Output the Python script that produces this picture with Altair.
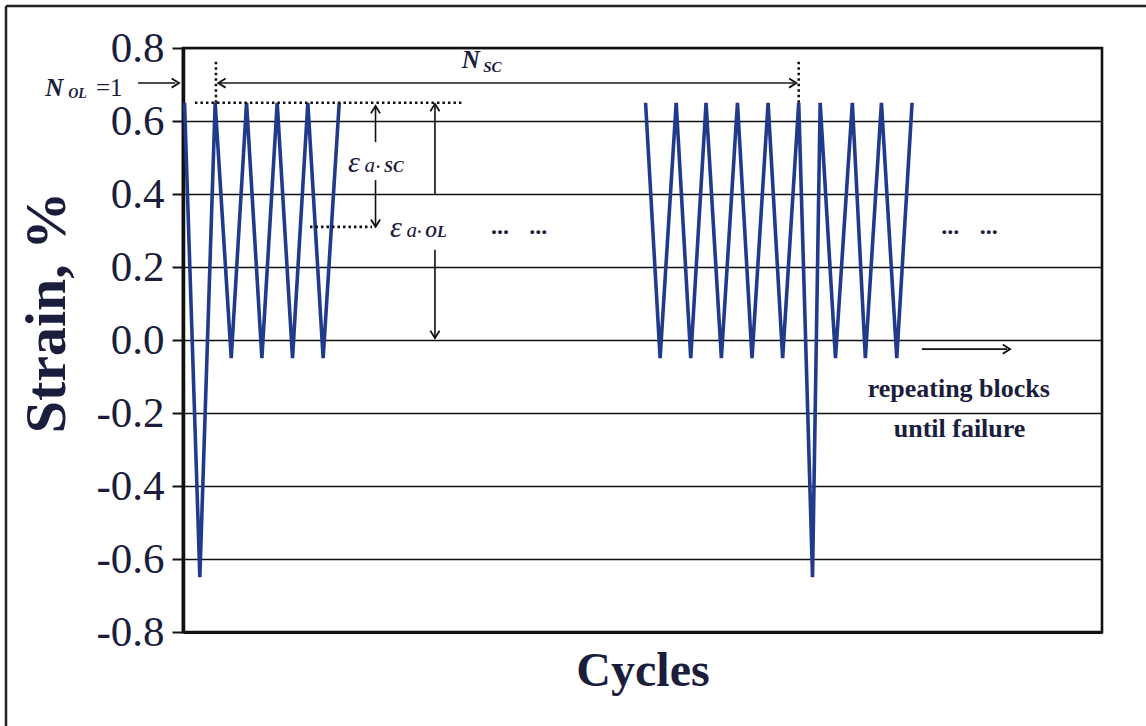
import altair as alt
import pandas as pd

# Strain history: first block (overload + small cycles) and a later block
block1_cycle = [0.1, 1.1, 2.1, 3.15, 4.15, 5.15, 6.15, 7.15, 8.15, 9.15, 10.2]
block1_strain = [0.65, -0.65, 0.65, -0.05, 0.65, -0.05, 0.65, -0.05, 0.65, -0.05, 0.65]
block2_cycle = [30.2, 31.15, 32.2, 33.15, 34.15, 35.15, 36.2, 37.15, 38.2, 39.15,
                40.2, 41.1, 41.6, 42.6, 43.7, 44.55, 45.6, 46.6, 47.6]
block2_strain = [0.65, -0.05, 0.65, -0.05, 0.65, -0.05, 0.65, -0.05, 0.65, -0.05,
                 0.65, -0.65, 0.65, -0.05, 0.65, -0.05, 0.65, -0.05, 0.65]

y_ticks = [-0.8, -0.6, -0.4, -0.2, 0.0, 0.2, 0.4, 0.6, 0.8]

# Annotation geometry in data units (cycle, strain)
shaft_x = [-2.94, 12.57, 12.57, 16.45, 16.45, 48.24]
shaft_x2 = [-0.5, 12.57, 12.57, 16.45, 16.45, 53.8]
shaft_y = [0.704, 0.641, 0.438, 0.647, 0.247, -0.025]
shaft_y2 = [0.704, 0.542, 0.31, 0.397, 0.005, -0.025]

nsc_x, nsc_x2, nsc_y = 2.4, 39.9, 0.704

dot_x = [2.15, 40.2, 0.78, 8.29]
dot_x2 = [2.15, 40.2, 18.2, 12.34]
dot_y = [0.65, 0.65, 0.65, 0.31]
dot_y2 = [0.765, 0.765, 0.65, 0.31]

head_x = [-0.26, 2.3, 40.05, 12.57, 12.57, 16.45, 16.45, 54.0]
head_y = [0.704, 0.704, 0.704, 0.641, 0.31, 0.647, 0.005, -0.025]
head_angle = [0, 180, 0, 270, 90, 270, 90, 0]

# Ellipsis marks ("... ...") after each block
ellipsis_x = [20.7, 23.2, 50.1, 52.6]
ellipsis_y = [0.29, 0.29, 0.29, 0.29]

INK = "#1b1d3c"
LINE_BLUE = "#203b8c"
SERIF = "Liberation Serif"

x_scale = alt.Scale(domain=[0, 60], nice=False, zero=False)
y_scale = alt.Scale(domain=[-0.8, 0.8], nice=False, zero=False)

wave = pd.DataFrame({
    "cycle": block1_cycle + block2_cycle,
    "strain": block1_strain + block2_strain,
    "block": ["first"] * len(block1_cycle) + ["second"] * len(block2_cycle),
    "order": list(range(len(block1_cycle))) + list(range(len(block2_cycle))),
})

wave_layer = alt.Chart(wave).mark_line(
    color=LINE_BLUE, strokeWidth=3.6, clip=True
).encode(
    x=alt.X("cycle:Q", scale=x_scale,
            axis=alt.Axis(title="Cycles", labels=False, ticks=False, grid=False,
                          domainColor="#111111", domainWidth=3,
                          titleFont=SERIF, titleFontSize=48, titleFontWeight="bold",
                          titleColor=INK, titleBaseline="alphabetic", titleY=53)),
    y=alt.Y("strain:Q", scale=y_scale,
            axis=alt.Axis(title="Strain, %", values=y_ticks,
                          labelExpr="datum.value < 0 ? '-' + format(-datum.value, '.1f') : format(datum.value, '.1f')",
                          labelFont=SERIF, labelFontSize=43, labelColor=INK, labelPadding=8,
                          tickSize=11, tickWidth=2, tickColor="#111111",
                          grid=True, gridColor="#111111", gridWidth=1.6, gridOpacity=1,
                          domainColor="#111111", domainWidth=3.5,
                          titleFont=SERIF, titleFontSize=58, titleFontWeight="bold",
                          titleColor=INK, titleAngle=270, titleBaseline="alphabetic",
                          titleAlign="center", titleX=-119, titleY=264)),
    detail="block:N",
    order="order:Q",
)

shafts = pd.DataFrame({"x": shaft_x, "x2": shaft_x2, "y": shaft_y, "y2": shaft_y2})
shaft_layer = alt.Chart(shafts).mark_rule(color="#111111", strokeWidth=1.6).encode(
    x=alt.X("x:Q", scale=x_scale, axis=None), x2="x2:Q",
    y=alt.Y("y:Q", scale=y_scale, axis=None), y2="y2:Q",
)

nsc = pd.DataFrame({"x": [nsc_x], "x2": [nsc_x2], "y": [nsc_y]})
nsc_layer = alt.Chart(nsc).mark_rule(color="#555555", strokeWidth=2).encode(
    x=alt.X("x:Q", scale=x_scale, axis=None), x2="x2:Q",
    y=alt.Y("y:Q", scale=y_scale, axis=None),
)

dots = pd.DataFrame({"x": dot_x, "x2": dot_x2, "y": dot_y, "y2": dot_y2})
dot_layer = alt.Chart(dots).mark_rule(color="#111111", strokeWidth=2.6, strokeDash=[2.5, 3]).encode(
    x=alt.X("x:Q", scale=x_scale, axis=None), x2="x2:Q",
    y=alt.Y("y:Q", scale=y_scale, axis=None), y2="y2:Q",
)

heads = pd.DataFrame({"x": head_x, "y": head_y, "angle": head_angle})
head_layer = alt.Chart(heads).mark_point(
    shape="M-1.2,-0.75L0,0L-1.2,0.75", filled=False, stroke="#111111",
    strokeWidth=1.8, size=150, opacity=1
).encode(
    x=alt.X("x:Q", scale=x_scale, axis=None),
    y=alt.Y("y:Q", scale=y_scale, axis=None),
    angle=alt.Angle("angle:Q", scale=None),
)


def text_layer(texts, xs, ys, sizes, align="left", style="normal", weight="normal", color=INK):
    df = pd.DataFrame({"t": texts, "x": xs, "y": ys, "s": sizes})
    return alt.Chart(df).mark_text(
        font=SERIF, fontStyle=style, fontWeight=weight, align=align,
        baseline="alphabetic", color=color
    ).encode(
        x=alt.X("x:Q", scale=x_scale, axis=None),
        y=alt.Y("y:Q", scale=y_scale, axis=None),
        text="t:N",
        size=alt.Size("s:Q", scale=None, legend=None),
    )


n_labels = text_layer(["N", "N"], [-9.0, 18.2], [0.668, 0.745], [25, 25],
                      style="italic", weight="bold")
n_subs = text_layer(["OL", "SC"], [-7.5, 19.6], [0.662, 0.735], [14, 15],
                    style="italic", weight="bold")
n_ol_eq = text_layer(["=1"], [-5.68], [0.668], [25])
eps = text_layer(["ε", "ε"], [10.77, 13.51], [0.46, 0.282], [30, 30], style="italic")
eps_a = text_layer(["a", "a"], [11.85, 14.6], [0.46, 0.282], [21, 21], style="italic")
eps_sub = text_layer(["· SC", "· OL"], [12.6, 15.3], [0.46, 0.282], [16, 16],
                     style="italic", weight="bold")
ellipses = text_layer(["..."] * len(ellipsis_x), ellipsis_x, ellipsis_y,
                      [24] * len(ellipsis_x), align="center", weight="bold")
notes = text_layer(["repeating blocks", "until failure"],
                   [50.65, 50.7], [-0.156, -0.266],
                   [26, 26], align="center", weight="bold")

# Outer frame around the figure
frame_left = alt.Chart(pd.DataFrame({"k": [0]})).mark_rule(color="#222222", strokeWidth=2.5).encode(
    x=alt.value(-177), y=alt.value(-42), y2=alt.value(760)
)
frame_top = alt.Chart(pd.DataFrame({"k": [0]})).mark_rule(color="#222222", strokeWidth=2.5).encode(
    x=alt.value(-177), x2=alt.value(1100), y=alt.value(-42)
)

chart = alt.layer(
    wave_layer, dot_layer, shaft_layer, nsc_layer, head_layer,
    n_labels, n_subs, n_ol_eq, eps, eps_a, eps_sub, ellipses, notes,
    frame_left, frame_top,
).resolve_axis(
    x="independent", y="independent"
).properties(
    width=919, height=584,
    autosize=alt.AutoSizeParams(type="none"),
    padding={"left": 183, "top": 48, "right": 44, "bottom": 94},
    background="white",
).configure_view(
    stroke="#111111", strokeWidth=2.6
)

chart.save("out.html", embed_options={"renderer": "svg", "actions": False})
